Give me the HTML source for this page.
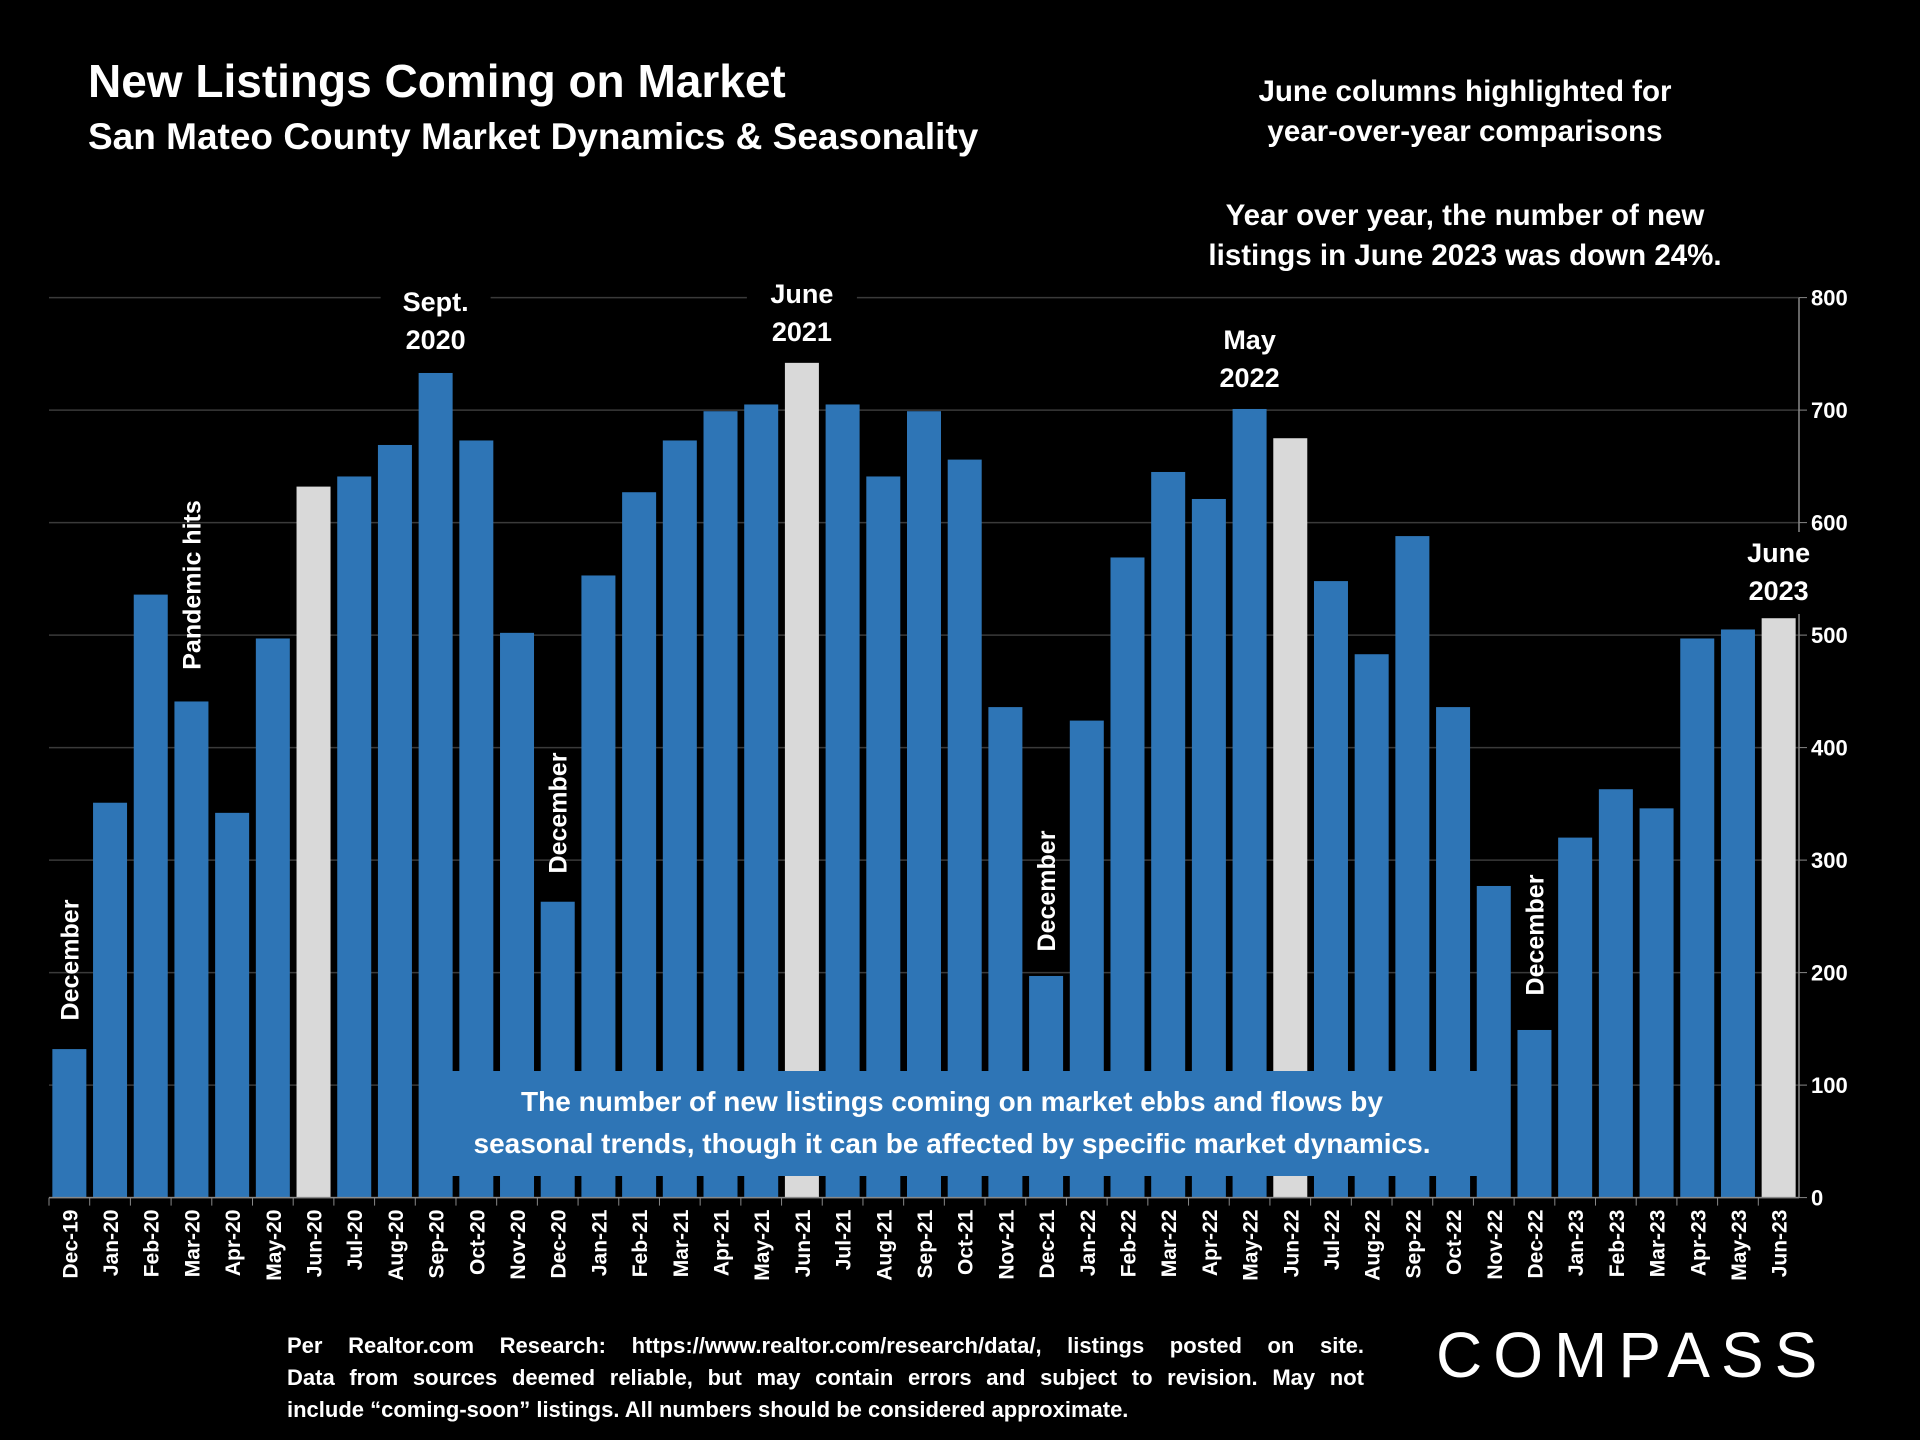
<!DOCTYPE html>
<html><head><meta charset="utf-8"><style>
body{margin:0;background:#000;width:1920px;height:1440px;overflow:hidden;font-family:"Liberation Sans",sans-serif;color:#fff}
.t{position:absolute;font-weight:bold;white-space:nowrap}
.fl{text-align:justify;text-align-last:justify;height:32px}
</style></head><body>
<div class="t" style="left:88px;top:54px;font-size:46px">New Listings Coming on Market</div>
<div class="t" style="left:88px;top:116px;font-size:37px">San Mateo County Market Dynamics &amp; Seasonality</div>
<div class="t" style="left:1465px;top:72px;font-size:29.5px;text-align:center;transform:translateX(-50%);line-height:40px">June columns highlighted for<br>year-over-year comparisons</div>
<div class="t" style="left:1465px;top:196px;font-size:29.5px;text-align:center;transform:translateX(-50%);line-height:40px">Year over year, the number of new<br>listings in June 2023 was down 24%.</div>
<svg id="chart" width="1920" height="1440" style="position:absolute;left:0;top:0"></svg>
<div class="t" style="left:422px;top:1071px;width:1060px;height:105px;background:#2e75b6;font-size:28px;text-align:center;line-height:42px;padding-top:10px;box-sizing:border-box">The number of new listings coming on market ebbs and flows by<br>seasonal trends, though it can be affected by specific market dynamics.</div>
<div class="t" style="left:287px;top:1330px;width:1077px;font-size:22px;line-height:32px;white-space:normal">
<div class="fl">Per Realtor.com Research: https://www.realtor.com/research/data/, listings posted on site.</div>
<div class="fl">Data from sources deemed reliable, but may contain errors and subject to revision. May not</div>
<div>include “coming-soon” listings. All numbers should be considered approximate.</div>
</div>
<div class="t" style="left:1436px;top:1318px;font-size:64px;font-weight:normal;letter-spacing:11px">COMPASS</div>
<script>
const categories=["Dec-19","Jan-20","Feb-20","Mar-20","Apr-20","May-20","Jun-20","Jul-20","Aug-20","Sep-20","Oct-20","Nov-20","Dec-20","Jan-21","Feb-21","Mar-21","Apr-21","May-21","Jun-21","Jul-21","Aug-21","Sep-21","Oct-21","Nov-21","Dec-21","Jan-22","Feb-22","Mar-22","Apr-22","May-22","Jun-22","Jul-22","Aug-22","Sep-22","Oct-22","Nov-22","Dec-22","Jan-23","Feb-23","Mar-23","Apr-23","May-23","Jun-23"];
const values=[132,351,536,441,342,497,632,641,669,733,673,502,263,553,627,673,699,705,742,705,641,699,656,436,197,424,569,645,621,701,675,548,483,588,436,277,149,320,363,346,497,505,515];
const yTicks=[0,100,200,300,400,500,600,700,800];
const NS="http://www.w3.org/2000/svg";
const svg=document.getElementById('chart');
const L=49,R=1799,Y0=1197.6,Y1=297.6,MAX=800;
const bw=(R-L)/categories.length;
const y=v=>Y0-(Y0-Y1)*v/MAX;
const xc=i=>L+bw*(i+0.5);
function mk(t,a){const e=document.createElementNS(NS,t);for(const k in a)e.setAttribute(k,a[k]);svg.appendChild(e);return e;}
yTicks.forEach(v=>{
  const g=mk('line',{x1:L,x2:R,y1:y(v),y2:y(v),stroke:'#3a3a3a','stroke-width':1.5});
  
  
  const tk=mk('line',{x1:R,x2:R+8,y1:y(v),y2:y(v),stroke:'#888'});
  
  
  const t=mk('text',{x:R+12,y:y(v)+8,fill:'#fff','font-size':22,'font-weight':'bold','font-family':'Liberation Sans'});
  t.textContent=v;
  
  
});
const ax=mk('line',{x1:R,x2:R,y1:Y1,y2:Y0,stroke:'#888','stroke-width':1.5});


categories.forEach((c,i)=>{
  const b=mk('rect',{x:xc(i)-17,y:y(values[i]),width:34,height:Y0-y(values[i]),fill:c.startsWith('Jun')?'#d9d9d9':'#2e75b6'});
  
  
  const tk=mk('line',{x1:L+bw*i,x2:L+bw*i,y1:Y0,y2:Y0+8,stroke:'#888'});
  
  
  const t=mk('text',{x:0,y:0,fill:'#fff','font-size':21,'font-weight':'bold','font-family':'Liberation Sans','text-anchor':'end',transform:`translate(${xc(i)+8},${Y0+12}) rotate(-90)`});
  t.textContent=c;
  
  
});
const xa=mk('line',{x1:L,x2:R,y1:Y0,y2:Y0,stroke:'#888','stroke-width':1.5});


function rot(txt,idx,cy){const t=mk('text',{x:0,y:0,fill:'#fff','font-size':25,'font-weight':'bold','font-family':'Liberation Sans','text-anchor':'middle',transform:`translate(${xc(idx)+9},${cy}) rotate(-90)`});t.textContent=txt;

}
rot('December',0,960);rot('Pandemic hits',3,585);rot('December',12,813);rot('December',24,891);rot('December',36,935);
function top2(a,b,idx,y1){const x=xc(idx);
 const bg=mk('rect',{x:x-55,y:y1-30,width:110,height:82,fill:'#000'});
 
 
 [a,b].forEach((s,k)=>{const t=mk('text',{x:x,y:y1+k*38,fill:'#fff','font-size':27,'font-weight':'bold','font-family':'Liberation Sans','text-anchor':'middle'});t.textContent=s;
 
 });}
top2('Sept.','2020',9,311);top2('June','2021',18,303);top2('May','2022',29,349);top2('June','2023',42,562);
</script>
</body></html>
